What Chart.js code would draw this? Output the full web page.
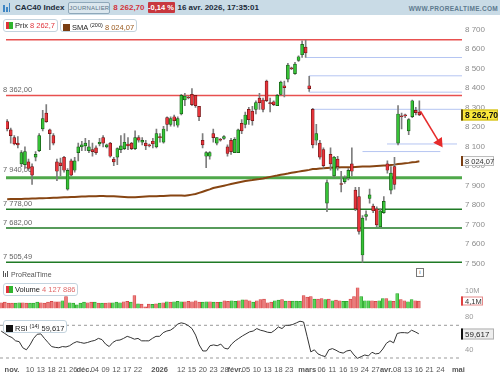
<!DOCTYPE html>
<html lang="fr"><head><meta charset="utf-8">
<script src="https://cdn.jsdelivr.net/npm/chart.js@4.4.1/dist/chart.umd.min.js"></script>
<style>
html,body{margin:0;padding:0}
body{width:500px;height:375px;overflow:hidden;background:#fff;position:relative;font-family:"Liberation Sans",Arial,sans-serif}
.a{position:absolute;white-space:nowrap}
#hdr{left:0;top:0;width:500px;height:15px;background:#c9dbe6}
#hrow{left:3px;top:2px;height:11px;display:flex;align-items:center;gap:3px;white-space:nowrap}
canvas{position:absolute;left:0}
.lrow{position:absolute;display:flex;gap:2px;z-index:5}
.lg{height:11px;line-height:11px;border:1px solid #c3d3de;border-radius:3px;background:rgba(255,255,255,0.92);font-size:7.5px;color:#222;padding:0 2px;white-space:nowrap}
.ic{display:inline-block;width:7px;height:7px;vertical-align:-1px;margin-right:2px}
sup{font-size:5.5px;vertical-align:3px}
</style></head><body>
<div id="hdr" class="a"></div>
<div id="hrow" class="a">
  <span style="display:inline-flex;align-items:flex-end;gap:1px;height:9px;width:9px">
    <span style="width:2px;height:7px;background:#3f86c4"></span><span style="width:2px;height:5px;background:#3f86c4"></span><span style="width:1px;height:9px;background:#3f86c4"></span>
  </span>
  <span style="font-size:8px;font-weight:bold;color:#1c2b3a;margin-right:1px">CAC40 Index</span>
  <span style="display:inline-block;width:40px;height:10px;border:1px solid #8ea8ba;border-radius:2px;background:#dbe7ee;font-size:6px;line-height:10px;text-align:center;color:#5a7385;letter-spacing:0.2px">JOURNALIER</span>
  <span style="font-size:8px;font-weight:bold;color:#d3323a">8 262,70</span>
  <span style="display:inline-block;width:27px;height:11px;background:#c8373e;border-radius:1px;font-size:7.5px;line-height:11px;font-weight:bold;color:#fff;text-align:center">-0,14 %</span>
  <span style="font-size:8px;font-weight:bold;color:#1c2b3a">16 avr. 2026, 17:35:01</span>
</div>
<div class="a" style="right:2px;top:5px;font-size:6.5px;font-weight:bold;color:#5d7a8e;letter-spacing:0.3px">WWW.PROREALTIME.COM</div>

<canvas id="cPrice" width="500" height="258" style="top:16px"></canvas>
<canvas id="cVol" width="500" height="39" style="top:277px"></canvas>
<canvas id="cRsi" width="500" height="70" style="top:305px"></canvas>

<div class="lrow" style="left:3px;top:19px">
  <div class="lg"><span class="ic" style="background:linear-gradient(90deg,#e0343c 50%,#2fb52f 50%)"></span>Prix <span style="color:#e0343c">8 262,7</span></div>
  <div class="lg"><span class="ic" style="background:#7a3e12"></span>SMA <sup>(200)</sup> <span style="color:#9a5a1e">8 024,07</span></div>
</div>
<div class="lrow" style="left:3px;top:283px"><div class="lg"><span class="ic" style="background:linear-gradient(90deg,#e0343c 50%,#2fb52f 50%)"></span>Volume <span style="color:#e06a6a">4 127 886</span></div></div>
<div class="lrow" style="left:3px;top:320px"><div class="lg"><span class="ic" style="background:#111"></span>RSI <sup>(14)</sup> 59,617</div></div>
<div class="a" style="left:3px;top:271px;font-size:7px;color:#555;z-index:4"><span style="display:inline-block;width:1px;height:6px;background:#555;margin-right:1px"></span><span style="display:inline-block;width:1px;height:4px;background:#555;margin-right:1px"></span><span style="display:inline-block;width:1px;height:6px;background:#555;margin-right:3px"></span>ProRealTime</div>
<div class="a" style="left:416px;top:268px;width:6px;height:7px;border:1px solid #777;font-size:6px;line-height:7px;text-align:center;color:#555;background:#fff;z-index:4">i</div>

<script>
// ---------- data ----------
const tickIndex  = [3,8,11,14,17,20,23,26,29,32,35,38,44,50,53,56,59,62,65,68,71,74,77,80,85,89,92,95,98,101,104,107,110,113,116,119,122,127];
const tickLabels = ['nov.','10','13','18','21','26','déc.','04','09','12','17','22','2026','12','15','20','23','28','févr.','05','10','13','18','23','mars','06','11','16','19','24','27','avr.','08','13','16','21','24','mai'];
const boldLabels = ['nov.','déc.','2026','févr.','mars','avr.','mai'];

const open = [8228,8185,8146,8117,8011,8007,8021,7997,8045,8079,
 8190,8272,8185,8156,8021,8016,8045,7881,8026,7978,
 8069,8098,8103,8079,8084,8093,8113,8146,8098,8117,
 8035,8045,8084,8089,8113,8117,8089,8146,8122,8117,
 8108,8127,8098,8151,8122,8248,8214,8253,8209,8267,
 8339,8354,8368,8363,8306,8132,8050,8050,8166,8117,
 8137,8142,8098,8132,8069,8069,8219,8214,8291,8281,
 8291,8349,8339,8436,8325,8330,8310,8368,8412,8446,
 8503,8474,8542,8571,8610,8412,8291,8132,8117,8084,
 7809,8060,7949,8035,7910,7920,7939,8011,7876,7843,
 7543,7741,7833,7794,7780,7688,7760,8011,7876,7997,
 8117,8257,8262,8180,8253,8286,8277];
const high = [8238,8195,8156,8151,8079,8098,8035,8011,8074,8166,
 8286,8315,8190,8166,8035,8040,8050,7987,8035,8045,
 8117,8127,8142,8132,8117,8103,8142,8156,8113,8122,
 8045,8093,8156,8166,8146,8122,8180,8156,8146,8132,
 8113,8142,8190,8166,8204,8253,8253,8262,8253,8368,
 8373,8359,8397,8363,8306,8166,8074,8074,8190,8146,
 8142,8156,8108,8142,8146,8190,8238,8277,8301,8306,
 8335,8373,8349,8441,8349,8335,8368,8436,8436,8527,
 8508,8532,8566,8642,8647,8460,8296,8214,8132,8093,
 7929,8093,8050,8050,7973,7949,7987,8093,7891,7891,
 7746,7770,7881,7804,7790,7780,7843,8026,7997,8045,
 8310,8272,8267,8243,8339,8301,8335];
const low = [8180,8117,8108,8093,7997,7987,7978,7905,8026,8074,
 8180,8224,8084,8108,7925,7949,7968,7876,7949,7968,
 8026,8079,8079,8069,8050,8060,8103,8098,8093,8045,
 8002,8007,8069,8084,8084,8084,8084,8122,8108,8084,
 8098,8093,8093,8122,8117,8180,8204,8204,8199,8262,
 8310,8344,8310,8301,8233,8093,7992,8035,8122,8108,
 8127,8137,8050,8060,8069,8069,8166,8195,8214,8209,
 8267,8291,8277,8330,8277,8310,8310,8363,8354,8431,
 8494,8470,8537,8557,8557,8383,8093,8108,8035,7987,
 7765,7978,7944,7978,7867,7910,7929,7949,7770,7650,
 7505.49,7722,7809,7760,7688,7683,7756,7963,7857,7881,
 8108,8190,8248,8161,8248,8262,8258];
const close = [8190,8156,8113,8108,8069,8074,7987,7953,8060,8156,
 8243,8228,8166,8117,7973,8002,7978,7978,7953,8026,
 8098,8108,8117,8098,8074,8069,8122,8117,8108,8050,
 8021,8089,8103,8122,8103,8089,8146,8132,8132,8103,
 8103,8113,8166,8146,8190,8214,8243,8233,8243,8363,
 8359,8349,8315,8310,8253,8108,8069,8069,8146,8146,
 8132,8151,8064,8074,8137,8185,8180,8262,8238,8233,
 8325,8325,8291,8335,8320,8315,8363,8431,8402,8518,
 8499,8523,8561,8624,8581,8397,8108,8166,8045,8002,
 7915,8011,8045,7997,7905,7939,7978,7973,7780,7664,
 7732,7751,7852,7770,7698,7770,7818,7978,7963,7905,
 8267,8253,8257,8238,8335,8274,8262.7];
const sma200 = [7829,7830,7830,7831,7831,7832,7832,7833,7833,7834,
 7834,7835,7836,7837,7837,7838,7839,7840,7841,7841,
 7842,7843,7843,7844,7845,7845,7846,7846,7845,7845,
 7844,7843,7842,7841,7840,7839,7840,7841,7842,7843,
 7844,7845,7845,7846,7846,7847,7848,7849,7849,7848,
 7847,7850,7853,7856,7862,7868,7874,7880,7887,7891,
 7895,7899,7903,7907,7911,7915,7919,7923,7926,7928,
 7931,7933,7936,7940,7944,7948,7951,7955,7958,7961,
 7965,7968,7971,7974,7977,7980,7984,7985,7987,7988,
 7990,7991,7992,7992,7993,7993,7994,7994,7995,7996,
 7997,7998,7998,7999,8000,8001,8002,8003,8005,8007,
 8010,8012,8014,8016,8019,8021,8024.07];
const volumeM = [3.2,3.5,2.95,2.95,2.95,3.2,3.2,2.95,2.95,2.95,
 3.5,3.2,2.95,3.5,4.0,3.75,3.75,4.3,6.6,3.2,
 2.95,2.05,2.95,3.5,3.2,3.5,3.5,2.95,2.95,2.95,
 3.2,3.2,3.5,3.2,3.75,4.0,3.5,7.2,2.6,2.4,
 0.9,2.4,2.3,2.6,2.95,3.2,3.75,3.5,3.75,4.0,
 3.75,3.75,4.0,3.75,4.3,3.5,3.5,3.75,3.75,3.5,
 3.4,3.5,4.3,4.0,4.3,4.0,4.3,4.8,4.8,4.3,
 3.5,4.3,5.0,5.2,3.2,3.5,4.3,4.6,5.0,4.1,
 4.1,4.1,4.1,4.0,7.2,6.3,6.6,5.2,5.2,5.5,
 5.0,5.2,4.3,4.6,4.3,4.0,4.0,5.2,6.6,11.5,
 6.6,4.3,4.3,4.3,4.0,4.3,5.5,5.5,4.3,4.0,
 8.2,5.0,4.3,3.75,5.0,4.3,4.127886];
const rsi14 = [62.9,60,57,55,51,50,42.5,40,46,54,
 59,59.5,54,49,44,43,42.5,44,43.5,45,
 48,50,49,48,49,50.5,51.5,54,52.5,47,
 44,49,51.5,52,54,56.5,55,53,54,51,
 51,51,54,56.5,56.5,61,63,64,67,71.5,
 73,72,69.5,66,58,46,38.6,38.6,45,46,
 45,47,42,41,47,51,54,57,59.5,62,
 63,66,64,63,61.5,61,64,68,66,70,
 70,71,73,75,74,56,37.5,40,35,33,
 31.7,40,41.5,39.5,37,36,38.6,39.5,33.7,29.6,
 31.7,33.7,32.5,37,35,35.7,41,48,51,48.5,
 60,61,61,60.5,64,62,59.617];

const redLevels   = [8648, 8362];
const greenLevels = [7940, 7778, 7682, 7505.49];
const blueLevels  = [8557, 8463, 8379, 8291, 8113, 8074];
const blueFrom    = [84.1, 84.9, 84.9, 85.5, 106.9, 100];
const blueTo      = [128, 128, 128, 128, 126.6, 121.9];
const arrowFrom   = [116.3, 8281];
const arrowTo     = [121.6, 8121];
const priceTicks  = [7500,7600,7700,7800,7900,8000,8100,8200,8300,8400,8500,8600,8700];
const rsiBands    = [70, 30];
const lastPrice = 8262.70, lastSma = 8024.07, lastVolM = 4.127886, lastRsi = 59.617;

// ---------- helpers ----------
const F = '"Liberation Sans", Arial, sans-serif';
const X0 = -0.333, X1 = 128.0;
const idx = close.map((_, i) => i);
const isUp = i => close[i] >= open[i];
function fr(v, d){
  const s = Math.abs(v).toFixed(d).split('.');
  const ip = s[0].replace(/\B(?=(\d{3})+(?!\d))/g, ' ');
  return (v<0?'-':'') + ip + (d ? ',' + s[1] : '');
}
const seg = (v, a, b) => [{x:a, y:v}, {x:b, y:v}];
const fixW = s => { s.width = 38; };
const baseOpts = {
  responsive:false, animation:false, events:[],
  plugins:{legend:{display:false}, tooltip:{enabled:false}},
};

const tagPlugin = {
  id:'tags',
  afterDraw(chart, args, o){
    const ctx = chart.ctx, ys = chart.scales.y, ca = chart.chartArea;
    (o.items||[]).forEach(it => {
      const y = Math.round(ys.getPixelForValue(it.value));
      const x = ca.right - 1, h = it.h || 10, w = it.w;
      ctx.save();
      ctx.fillStyle = it.bg; ctx.fillRect(x, y - h/2, w, h);
      ctx.strokeStyle = it.border; ctx.lineWidth = 1;
      ctx.strokeRect(x + 0.5, y - h/2 + 0.5, w - 1, h - 1);
      ctx.fillStyle = it.bar; ctx.fillRect(x, y - h/2, 2, h);
      ctx.fillStyle = it.color; ctx.font = (it.bold ? 'bold ' : '') + (it.size||8) + 'px ' + F;
      ctx.textBaseline = 'middle'; ctx.textAlign = 'left';
      ctx.fillText(it.text, x + 4, y + 0.5);
      ctx.restore();
    });
  }
};
const levelLabelPlugin = {
  id:'lvlLabels',
  beforeDatasetsDraw(chart, args, o){
    const ctx = chart.ctx, ys = chart.scales.y;
    ctx.save();
    ctx.font = '7.5px ' + F; ctx.fillStyle = '#666'; ctx.textBaseline = 'alphabetic';
    (o.values||[]).forEach((v, k) => {
      ctx.fillText(fr(v, 2), 3, ys.getPixelForValue(v) - (o.dy ? o.dy[k] : 3));
    });
    ctx.restore();
  }
};

// ---------- price chart ----------
new Chart(document.getElementById('cPrice'), {
  type:'bar',
  data:{ datasets:[
    ...redLevels.map(v => ({type:'line', data:seg(v, X0, X1), borderColor:'#e8504f', borderWidth:1.5, pointRadius:0, order:20})),
    ...greenLevels.map((v,k) => ({type:'line', data:seg(v, X0, X1), borderColor: k===0 ? '#4fa84a' : '#1f7a25', borderWidth: k===0 ? 3 : 1.5, pointRadius:0, order:20})),
    ...blueLevels.map((v,k) => ({type:'line', data:seg(v, blueFrom[k], blueTo[k]), borderColor:'#b5c5f2', borderWidth:1, pointRadius:0, order:20})),
    {type:'line', data: sma200.map((v,i) => ({x:i, y:v})), borderColor:'#874512', borderWidth:2, pointRadius:0, order:10},
    {type:'bar', data: idx.map(i => ({x:i, y:[low[i], high[i]]})), backgroundColor:'#7d7d7d', barThickness:1, grouped:false, order:5},
    {type:'bar', data: idx.map(i => ({x:i, y:[open[i], close[i]]})),
      backgroundColor: c => isUp(c.dataIndex) ? '#36c236' : '#e8343b',
      borderColor: c => isUp(c.dataIndex) ? '#135313' : '#6a1515',
      borderWidth:0.7, borderSkipped:false, barThickness:3, minBarLength:1, grouped:false, order:4},
    {type:'line', data:[{x:arrowFrom[0], y:arrowFrom[1]}, {x:arrowTo[0], y:arrowTo[1]}], borderColor:'#e62b2b', borderWidth:1.5,
      pointRadius:[0,4.5], pointStyle:'triangle', rotation:[0,146], pointBackgroundColor:'#e62b2b', pointBorderColor:'#e62b2b', order:1}
  ]},
  options:{...baseOpts,
    layout:{padding:0},
    plugins:{...baseOpts.plugins,
      tags:{items:[
        {value:lastSma, text:fr(lastSma,2), bg:'#fbfbfb', border:'#bcbcbc', bar:'#7a3e12', color:'#333', w:33, size:7.5, h:10},
        {value:lastPrice, text:fr(lastPrice,2), bg:'#fbe83a', border:'#c9b820', bar:'#5a4a10', color:'#111', w:37, bold:true, size:8.5, h:11}
      ]},
      lvlLabels:{values:[redLevels[1], ...greenLevels], dy:[3,6,3,3,3]}
    },
    scales:{
      x:{type:'linear', min:X0, max:X1, display:false, offset:false},
      y:{type:'linear', position:'right', min:7485.5, max:8730, afterFit:fixW,
         afterBuildTicks: s => { s.ticks = priceTicks.map(v => ({value:v})); },
         ticks:{callback: v => fr(v,0), font:{size:8, family:F}, color:'#8c8c8c', padding:3},
         grid:{display:false, drawTicks:false}, border:{display:false}}
    }
  },
  plugins:[tagPlugin, levelLabelPlugin]
});

// ---------- volume chart ----------
new Chart(document.getElementById('cVol'), {
  type:'bar',
  data:{ datasets:[
    {data: idx.map(i => ({x:i, y:volumeM[i]})),
     backgroundColor: c => isUp(c.dataIndex) ? '#5ad35a' : '#ec7b7b',
     borderColor: c => isUp(c.dataIndex) ? '#27a027' : '#d23f3f',
     borderWidth:0.7, borderSkipped:'start', barThickness:3}
  ]},
  options:{...baseOpts,
    layout:{padding:0},
    plugins:{...baseOpts.plugins,
      tags:{items:[{value:lastVolM, text:'4,1M', bg:'#fff', border:'#e58a8a', bar:'#e04040', color:'#333', w:22, size:7.5, h:9}]}
    },
    scales:{
      x:{type:'linear', min:X0, max:X1, display:false, offset:false},
      y:{type:'linear', position:'right', min:0, max:13.3, afterFit:fixW,
         afterBuildTicks: s => { s.ticks = [{value:10}]; },
         ticks:{callback: v => v + 'M', font:{size:7.5, family:F}, color:'#9a9a9a', padding:3},
         grid:{display:false, drawTicks:false}, border:{display:false}}
    }
  },
  plugins:[tagPlugin]
});

// ---------- RSI chart ----------
new Chart(document.getElementById('cRsi'), {
  type:'line',
  data:{ datasets:[
    ...rsiBands.map(v => ({data:seg(v, X0, X1), borderColor:'#9a9a9a', borderWidth:1, borderDash:[3,3], pointRadius:0, order:5})),
    {data: rsi14.map((v,i) => ({x:i, y:v})), borderColor:'#333', borderWidth:1, pointRadius:0, tension:0, order:1}
  ]},
  options:{...baseOpts,
    layout:{padding:{top:12, left:0, right:0, bottom:0}},
    plugins:{...baseOpts.plugins,
      tags:{items:[{value:lastRsi, text:fr(lastRsi,3), bg:'#eeeeee', border:'#b0b0b0', bar:'#111', color:'#222', w:33, size:8, h:11}]}
    },
    scales:{
      x:{type:'linear', min:X0, max:X1, offset:false,
         afterFit: s => { s.height = 13; },
         afterBuildTicks: s => { s.ticks = tickIndex.map(v => ({value:v})); },
         ticks:{autoSkip:false, maxRotation:0, minRotation:0, padding:3,
           callback:(v, i) => tickLabels[i],
           font: c => ({size:7.5, family:F, weight: boldLabels.includes(tickLabels[c.index]) ? 'bold' : 'normal'}),
           color:'#555'},
         grid:{display:false, drawTicks:false}, border:{display:false}},
      y:{type:'linear', position:'right', min:25.1, max:80.15, afterFit:fixW,
         afterBuildTicks: s => { s.ticks = [{value:80},{value:40}]; },
         ticks:{font:{size:7.5, family:F}, color:'#9a9a9a', padding:3},
         grid:{display:false, drawTicks:false}, border:{display:false}}
    }
  },
  plugins:[tagPlugin]
});
</script>
</body></html>
